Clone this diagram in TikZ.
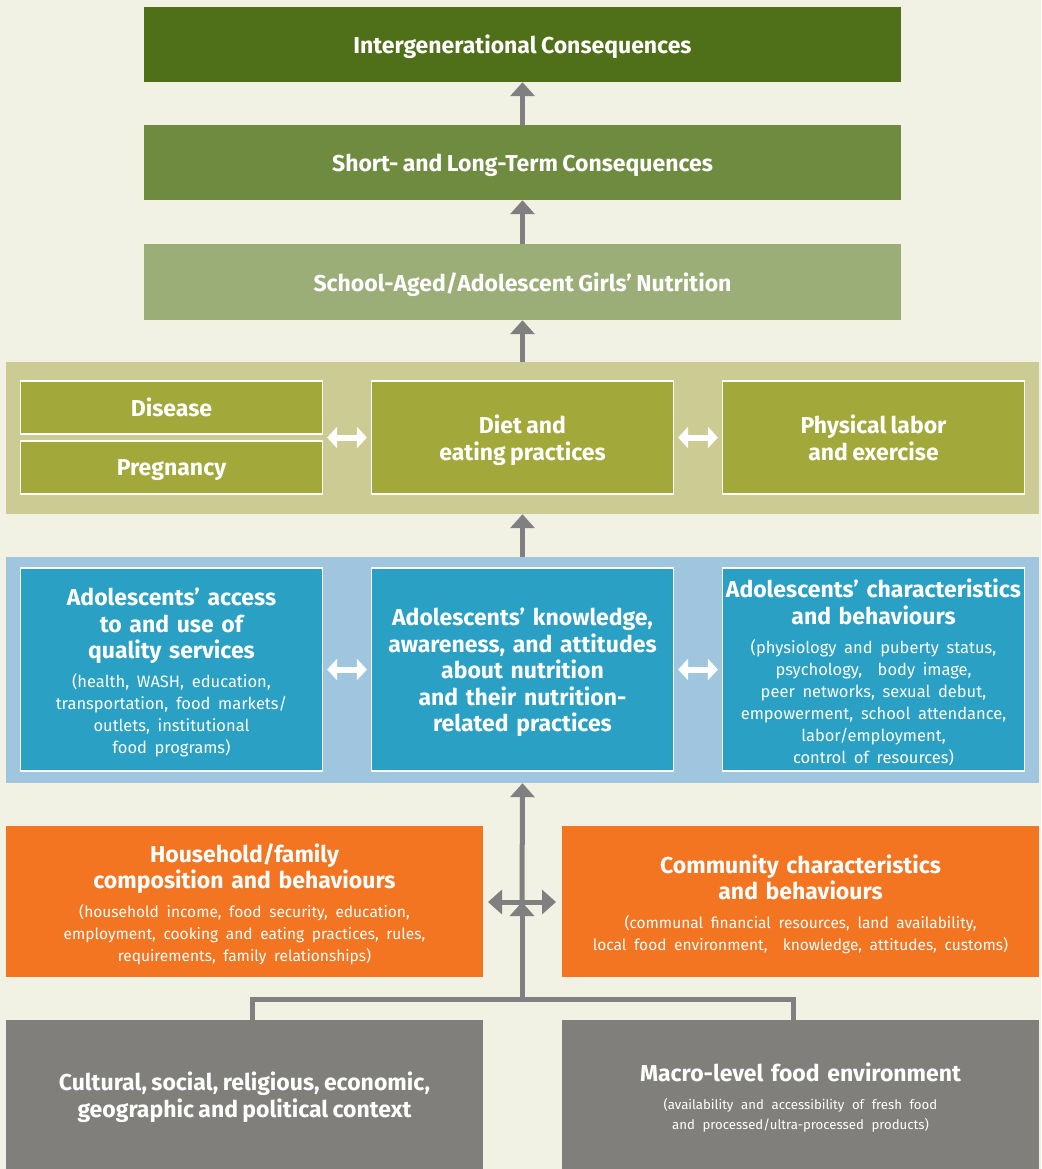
\documentclass[tikz,border=0pt]{standalone}
\usepackage{fontspec}
\setmainfont{Fira Sans}[WordSpace=0.8]
\usetikzlibrary{arrows.meta}
\definecolor{cream}{HTML}{F1F1E4}
\definecolor{greenA}{HTML}{4F7019}
\definecolor{greenB}{HTML}{6F8B40}
\definecolor{greenC}{HTML}{9BAE77}
\definecolor{olivepanel}{HTML}{CBCB93}
\definecolor{olivebox}{HTML}{A2A839}
\definecolor{bluepanel}{HTML}{9FC6DE}
\definecolor{bluebox}{HTML}{29A0C4}
\definecolor{orangebox}{HTML}{F37421}
\definecolor{graybox}{HTML}{807F7C}
\definecolor{arrowgray}{HTML}{808080}
\newcommand\headtxt{\fontsize{23}{26.5}\selectfont\bfseries}
\newcommand\subtxt{\fontsize{16.5}{22}\selectfont\mdseries}
\newcommand\smalltxt{\fontsize{15.5}{22}\selectfont\mdseries}
\newcommand\tinytxt{\fontsize{13.2}{20}\selectfont\mdseries}
\newcommand\topstrut{\rule{0pt}{24pt}}
\begin{document}
\begin{tikzpicture}[x=1pt,y=-1pt,
  every node/.style={inner sep=0pt,align=center,text=white,font=\headtxt},
  wide/.style={minimum width=757pt,text depth=0pt},
  panel/.style={minimum width=1033pt},
  inbox/.style={draw=white,line width=1.2pt,minimum width=302pt},
  flat/.style={text depth=0pt},
  txtbox/.style={text width=#1},
  uparrow/.style={draw=arrowgray,line width=5pt,-{Triangle[width=24pt,length=14pt]}},
  barline/.style={draw=arrowgray,line width=5pt},
  twoway/.style={draw=white,line width=6pt,{Triangle[width=21pt,length=10pt]}-{Triangle[width=21pt,length=10pt]},shorten <=4pt,shorten >=4pt},
  grayway/.style={draw=arrowgray,line width=5pt,{Triangle[width=24pt,length=14pt]}-{Triangle[width=24pt,length=14pt]}}]
\useasboundingbox[fill=cream] (0,0) rectangle (1041,1169);
\node[wide,fill=greenA,minimum height=75pt] (interg) at (522.5,44.5) {Intergenerational Consequences};
\node[wide,fill=greenB,minimum height=75pt] (shortlong) at (522.5,162.5) {Short- and Long-Term Consequences};
\node[wide,fill=greenC,minimum height=76pt] (girls) at (522.5,282) {School-Aged/Adolescent Girls’ Nutrition};
\node[panel,fill=olivepanel,minimum height=152pt] (practices) at (522.5,438) {};
\node[inbox,flat,fill=olivebox,minimum height=53pt] (disease) at (171.5,407.5) {Disease};
\node[inbox,flat,fill=olivebox,minimum height=53pt] (pregnancy) at (171.5,467.5) {Pregnancy};
\node[inbox,flat,fill=olivebox,minimum height=113pt] (diet) at (522.5,437.5) {Diet and\\eating practices};
\node[inbox,flat,fill=olivebox,minimum height=113pt] (labor) at (873.5,437.5) {Physical labor\\and exercise};
\node[panel,fill=bluepanel,minimum height=226pt] (adolescent) at (522.5,670) {};
\node[inbox,fill=bluebox,minimum height=203pt,txtbox=300pt] (access) at (171.5,669.5) {\topstrut Adolescents’ access\\to and use of\\quality services\par\vspace{7pt}\subtxt (health, WASH, education,\\transportation, food markets/\\outlets, institutional\\food programs)\par};
\node[inbox,fill=bluebox,minimum height=203pt,txtbox=300pt] (knowledge) at (522.5,669.5) {\topstrut Adolescents’ knowledge,\\awareness, and attitudes\\about nutrition\\and their nutrition-\\related practices\par};
\node[inbox,fill=bluebox,minimum height=203pt,txtbox=300pt] (traits) at (873.5,669.5) {\topstrut Adolescents’ characteristics\\and behaviours\par\vspace{7pt}\subtxt (physiology and puberty status,\\psychology,\ \ body image,\\peer networks, sexual debut,\\empowerment, school attendance,\\labor/employment,\\control of resources)\par};
\node[fill=orangebox,minimum width=477pt,minimum height=151pt,txtbox=470pt] (household) at (244.5,901.5) {\topstrut Household/family\\composition and behaviours\par\vspace{7pt}\smalltxt (household income, food security, education,\\employment, cooking and eating practices, rules,\\requirements, family relationships)\par};
\node[fill=orangebox,minimum width=477pt,minimum height=151pt,txtbox=470pt] (community) at (800.5,901.5) {\topstrut Community characteristics\\and behaviours\par\vspace{7pt}\smalltxt (communal financial resources, land availability,\\local food environment,\ \ knowledge, attitudes, customs)\par};
\node[flat,fill=graybox,minimum width=477pt,minimum height=149pt] (context) at (244.5,1094.5) {Cultural, social, religious, economic,\\geographic and political context};
\node[fill=graybox,minimum width=477pt,minimum height=149pt,txtbox=470pt] (macro) at (800.5,1094.5) {\topstrut Macro-level food environment\par\vspace{8pt}\tinytxt (availability and accessibility of fresh food\\and processed/ultra-processed products)\par};
\coordinate (lfoot) at (252,1020);
\coordinate (rfoot) at (793,1020);
\coordinate (fork) at (522,999);
\coordinate (hub) at (522,902);
\coordinate (hleft) at (488,902);
\coordinate (hright) at (556,902);
\draw[uparrow] (girls.north) -- (shortlong.south);
\draw[uparrow] (shortlong.north) -- (interg.south);
\draw[uparrow] (practices.north) -- (girls.south);
\draw[uparrow] (adolescent.north) -- (practices.south);
\draw[twoway] (disease.east |- diet.west) -- (diet.west);
\draw[twoway] (diet.east) -- (labor.west);
\draw[twoway] (access.east) -- (knowledge.west);
\draw[twoway] (knowledge.east) -- (traits.west);
\draw[barline] (lfoot) |- (fork) -| (rfoot);
\draw[grayway] (hleft) -- (hright);
\draw[uparrow] (hub) -- (adolescent.south);
\draw[uparrow] (fork) -- (hub);
\end{tikzpicture}
\end{document}
